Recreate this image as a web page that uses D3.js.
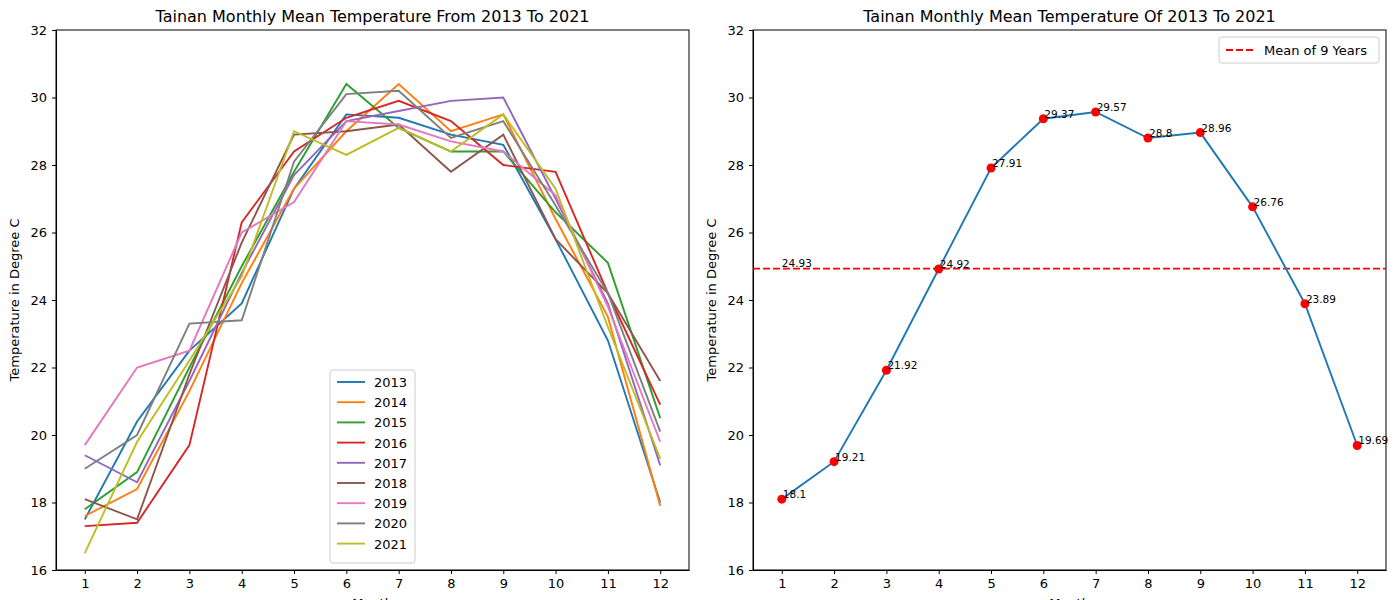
<!DOCTYPE html>
<meta charset="utf-8">
<style>
body { margin: 0; background: #fff; }
text { font-family: "DejaVu Sans", sans-serif; }
.tick text { font-size: 13px; }
.domain, .tick line { stroke: #000; }
</style>
<svg width="1400" height="600"></svg>
<script src="https://cdn.jsdelivr.net/npm/d3@7"></script>
<script>

var months = [1,2,3,4,5,6,7,8,9,10,11,12];
var years = ["2013","2014","2015","2016","2017","2018","2019","2020","2021"];
var colors = ["#1f77b4","#ff7f0e","#2ca02c","#d62728","#9467bd","#8c564b","#e377c2","#7f7f7f","#bcbd22"];
var yTicks = [16,18,20,22,24,26,28,30,32];

var t2013 = [17.5,20.4,22.5,23.9,27.3,29.5,29.4,28.9,28.6,25.8,22.8,18.0];
var t2014 = [17.6,18.4,21.3,24.5,27.3,29.0,30.4,29.0,29.5,26.4,23.5,17.9];
var t2015 = [17.8,18.9,22.0,25.0,27.8,30.4,29.1,28.4,28.4,26.6,25.1,20.5];
var t2016 = [17.3,17.4,19.7,26.3,28.4,29.4,29.9,29.3,28.0,27.8,24.2,20.9];
var t2017 = [19.4,18.6,21.6,24.8,27.7,29.3,29.6,29.9,30.0,27.0,23.9,19.1];
var t2018 = [18.1,17.5,21.8,25.7,28.9,29.0,29.2,27.8,28.9,25.8,24.2,21.6];
var t2019 = [19.7,22.0,22.5,26.0,26.9,29.3,29.2,28.7,28.4,27.1,23.8,19.8];
var t2020 = [19.0,20.0,23.3,23.4,28.1,30.1,30.2,28.8,29.3,26.8,24.2,20.1];
var t2021 = [16.5,19.8,22.2,24.7,29.0,28.3,29.1,28.4,29.5,27.3,23.2,19.3];
var series = [t2013,t2014,t2015,t2016,t2017,t2018,t2019,t2020,t2021];

var meanByMonth = [18.1,19.21,21.92,24.92,27.91,29.37,29.57,28.8,28.96,26.76,23.89,19.69];
var overallMean = 24.93;

var svg = d3.select("svg");
var top0 = 30, bottom0 = 570;

function panel(left, right, title) {
  var x = d3.scaleLinear().domain([0.45, 12.55]).range([left, right]);
  var y = d3.scaleLinear().domain([16, 32]).range([bottom0, top0]);
  var g = svg.append("g");
  g.append("g").attr("transform", "translate(0," + bottom0 + ")")
    .call(d3.axisBottom(x).tickValues(months).tickSize(4).tickPadding(5).tickSizeOuter(0));
  g.append("g").attr("transform", "translate(" + left + ",0)")
    .call(d3.axisLeft(y).tickValues(yTicks).tickSize(4).tickPadding(5).tickSizeOuter(0));
  g.append("rect").attr("x", left).attr("y", top0).attr("width", right - left)
    .attr("height", bottom0 - top0).attr("fill", "none").attr("stroke", "#000");
  g.append("text").attr("x", (left + right) / 2).attr("y", 22).attr("text-anchor", "middle")
    .attr("font-size", 16).text(title);
  g.append("text").attr("transform", "translate(" + (left - 37) + "," + ((top0 + bottom0) / 2) + ") rotate(-90)")
    .attr("text-anchor", "middle").attr("font-size", 13).text("Temperature in Degree C");
  g.append("text").attr("x", (left + right) / 2).attr("y", 608).attr("text-anchor", "middle")
    .attr("font-size", 13).text("Month");
  return {g: g, x: x, y: y};
}

var p1 = panel(56, 689, "Tainan Monthly Mean Temperature From 2013 To 2021");
var line1 = d3.line().x(function(d, i) { return p1.x(months[i]); }).y(function(d) { return p1.y(d); });
series.forEach(function(s, k) {
  p1.g.append("path").attr("d", line1(s)).attr("fill", "none")
    .attr("stroke", colors[k]).attr("stroke-width", 1.9);
});

// legend
var lg = p1.g.append("g").attr("transform", "translate(330,370)");
lg.append("rect").attr("width", 85).attr("height", 193).attr("rx", 3)
  .attr("fill", "#fff").attr("fill-opacity", 0.8).attr("stroke", "#ccc");
years.forEach(function(yr, k) {
  var yy = 12 + k * 20.2;
  lg.append("line").attr("x1", 7).attr("x2", 35).attr("y1", yy).attr("y2", yy)
    .attr("stroke", colors[k]).attr("stroke-width", 1.9);
  lg.append("text").attr("x", 44).attr("y", yy + 5).attr("font-size", 13).text(yr);
});

var p2 = panel(753, 1386, "Tainan Monthly Mean Temperature Of 2013 To 2021");
p2.g.append("line").attr("x1", 753).attr("x2", 1386)
  .attr("y1", p2.y(overallMean)).attr("y2", p2.y(overallMean))
  .attr("stroke", "red").attr("stroke-width", 1.9).attr("stroke-dasharray", "7,3");
p2.g.append("text").attr("x", p2.x(1)).attr("y", p2.y(overallMean) - 2)
  .attr("font-size", 10.5).text(overallMean);
var line2 = d3.line().x(function(d, i) { return p2.x(months[i]); }).y(function(d) { return p2.y(d); });
p2.g.append("path").attr("d", line2(meanByMonth)).attr("fill", "none")
  .attr("stroke", "#1f77b4").attr("stroke-width", 1.9);
p2.g.selectAll("circle").data(meanByMonth).enter().append("circle")
  .attr("cx", function(d, i) { return p2.x(months[i]); })
  .attr("cy", function(d) { return p2.y(d); })
  .attr("r", 4.5).attr("fill", "red");
p2.g.selectAll(".ann").data(meanByMonth).enter().append("text")
  .attr("x", function(d, i) { return p2.x(months[i]) + 1; })
  .attr("y", function(d) { return p2.y(d) - 1; })
  .attr("font-size", 10.5).text(function(d) { return d; });

var lg2 = p2.g.append("g").attr("transform", "translate(1219,37)");
lg2.append("rect").attr("width", 160).attr("height", 26).attr("rx", 3)
  .attr("fill", "#fff").attr("fill-opacity", 0.8).attr("stroke", "#ccc");
lg2.append("line").attr("x1", 7).attr("x2", 35).attr("y1", 13).attr("y2", 13)
  .attr("stroke", "red").attr("stroke-width", 1.9).attr("stroke-dasharray", "7,3");
lg2.append("text").attr("x", 45).attr("y", 18).attr("font-size", 13).text("Mean of 9 Years");

</script>
